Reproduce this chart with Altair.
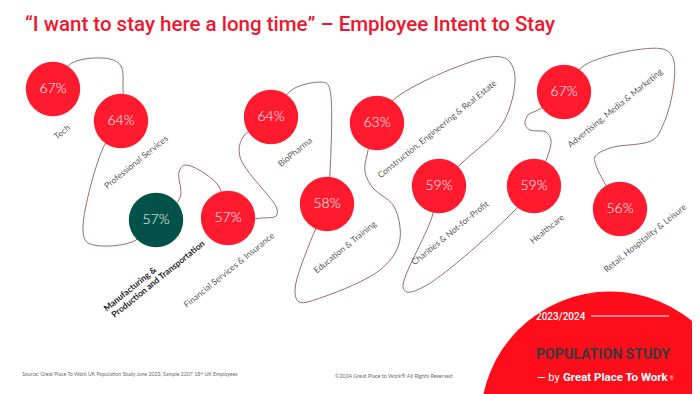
import altair as alt
import pandas as pd

# ---------------- data ----------------
categories = [
    "Tech", "Professional Services", "Manufacturing & Production and Transportation",
    "Financial Services & Insurance", "BioPharma", "Education & Training",
    "Construction, Engineering & Real Estate", "Charities & Not-for-Profit",
    "Healthcare", "Advertising, Media & Marketing", "Retail, Hospitality & Leisure",
]
values = [67, 64, 57, 57, 64, 58, 63, 59, 59, 67, 56]
highlighted = [False, False, True, False, False, False, False, False, False, False, False]

# ---------------- layout (infographic positions, px) ----------------
bubble_x = [53, 121, 156, 228, 271, 327, 377, 439, 534, 564, 620]
bubble_y = [89, 121, 220, 218, 117, 204, 123, 186, 186, 92, 209]
label_x = [62, 136, 0, 229, 295, 345, 437, 450, 547, 615, 645]
label_y = [132, 162, 0, 270, 152, 247, 129, 233, 229, 108, 238]

mfg_lines = ["Manufacturing &", "Production and Transportation"]
mfg_x = [130, 158]
mfg_y = [289, 279]

# decorative connecting thread
path_x = [53, 72, 110, 121, 123, 121, 103, 83, 88, 132, 156, 180, 179, 185, 218, 228,
          262, 276, 277, 240, 243, 271, 293, 326, 330, 330, 327, 313, 295, 299, 323,
          380, 398, 400, 393, 373, 365, 367, 377, 397, 490, 508, 515, 503, 463, 439,
          432, 403, 407, 427, 513, 534, 548, 551, 546, 530, 525, 528, 538, 564, 585,
          663, 673, 673, 663, 653, 610, 595, 597, 603, 620]
path_y = [89, 63, 59, 66, 88, 121, 148, 230, 243, 242, 220, 198, 172, 165, 185, 218,
          218, 216, 209, 157, 137, 117, 89, 83, 90, 173, 204, 235, 290, 302, 297,
          270, 247, 227, 205, 188, 172, 155, 123, 97, 57, 60, 77, 123, 162, 186,
          217, 287, 292, 285, 212, 186, 155, 140, 132, 130, 124, 115, 110, 92, 65,
          49, 58, 90, 125, 140, 148, 157, 168, 180, 209]

W, H = 684, 386
XS = alt.Scale(domain=[8, 692], nice=False, zero=False)
YS = alt.Scale(domain=[8, 394], nice=False, zero=False, reverse=True)


def X(f="x"):
    return alt.X(f"{f}:Q", scale=XS, axis=None)


def Y(f="y"):
    return alt.Y(f"{f}:Q", scale=YS, axis=None)


RED = "#FF1A2E"
GREEN = "#02524A"
THREAD = "#A4686B"
LABEL = "#5B5B5B"
FONT = "Lato"

bubbles = pd.DataFrame({
    "cat": categories,
    "value": values,
    "pct": [f"{v}%" for v in values],
    "hl": ["yes" if h else "no" for h in highlighted],
    "x": bubble_x, "y": bubble_y,
    "lx": label_x, "ly": label_y,
})
labels = bubbles[~bubbles["hl"].eq("yes")]
path = pd.DataFrame({"x": path_x, "y": path_y, "i": range(len(path_x))})
mfg = pd.DataFrame({"t": mfg_lines, "x": mfg_x, "y": mfg_y})

thread = alt.Chart(path).mark_line(
    interpolate="catmull-rom", color=THREAD, strokeWidth=1
).encode(x=X(), y=Y(), order="i:Q")

circles = alt.Chart(bubbles).mark_circle(size=2960, opacity=1).encode(
    x=X(), y=Y(),
    color=alt.Color("hl:N", scale=alt.Scale(domain=["no", "yes"], range=[RED, GREEN]), legend=None),
)

pct = alt.Chart(bubbles).mark_text(
    color="white", font=FONT, fontSize=14, fontWeight=300, baseline="middle"
).encode(x=X(), y=Y(), text="pct:N")

cat_labels = alt.Chart(labels).mark_text(
    angle=321, color=LABEL, font=FONT, fontSize=8.6, baseline="middle", align="center"
).encode(x=X("lx"), y=Y("ly"), text="cat:N")

mfg_labels = alt.Chart(mfg).mark_text(
    angle=321, color="#1E1E1E", font=FONT, fontSize=8.6, fontWeight="bold",
    baseline="middle", align="center"
).encode(x=X(), y=Y(), text="t:N")

title = alt.Chart(pd.DataFrame({"t": ["\u201cI want to stay here a long time\u201d \u2013 Employee Intent to Stay"],
                                "x": [25], "y": [31]})).mark_text(
    color="#F0162E", font="Roboto", fontSize=20.5, fontWeight=500, align="left", baseline="alphabetic"
).encode(x=X(), y=Y(), text="t:N")

big = alt.Chart(pd.DataFrame({"x": [610], "y": [421]})).mark_circle(
    size=3.14159 * 146 * 146, opacity=1, color="#FF0D1A"
).encode(x=X(), y=Y())

logo_text = pd.DataFrame({
    "t": ["2023/2024", "POPULATION STUDY", "\u2014 by", "Great Place To Work", "\u00ae"],
    "x": [536, 536, 537, 563, 670],
    "y": [320, 359, 381, 381, 380],
})
year = alt.Chart(logo_text.iloc[[0]]).mark_text(
    color="white", font="Roboto", fontSize=10, fontWeight=500, align="left", baseline="alphabetic"
).encode(x=X(), y=Y(), text="t:N")
popstudy = alt.Chart(logo_text.iloc[[1]]).mark_text(
    color="#3A3A3A", font="Roboto", fontSize=14.1, fontWeight="bold", align="left", baseline="alphabetic"
).encode(x=X(), y=Y(), text="t:N")
by = alt.Chart(logo_text.iloc[[2]]).mark_text(
    color="white", font="Roboto", fontSize=11, align="left", baseline="alphabetic"
).encode(x=X(), y=Y(), text="t:N")
gptw = alt.Chart(logo_text.iloc[[3]]).mark_text(
    color="white", font="Roboto", fontSize=11.5, fontWeight="bold", align="left", baseline="alphabetic"
).encode(x=X(), y=Y(), text="t:N")
reg = alt.Chart(logo_text.iloc[[4]]).mark_text(
    color="white", font="Roboto", fontSize=4.5, align="left", baseline="alphabetic"
).encode(x=X(), y=Y(), text="t:N")
year_rule = alt.Chart(pd.DataFrame({"x": [591], "x2": [669], "y": [316]})).mark_rule(
    color="white", strokeWidth=1
).encode(x=X(), x2="x2:Q", y=Y())

footer = pd.DataFrame({
    "t": ["Source: Great Place To Work UK Population Study June 2023, Sample 2207 18+ UK Employees",
          "\u00a92024 Great Place to Work\u00ae All Rights Reserved"],
    "x": [22, 335], "y": [374, 376], "fs": [5.2, 5.4],
})
foot = alt.Chart(footer).mark_text(
    color="#6A6A6A", font=FONT, align="left", baseline="middle"
).encode(x=X(), y=Y(), text="t:N", size=alt.Size("fs:Q", scale=None, legend=None))

chart = alt.layer(
    big, thread, circles, pct, cat_labels, mfg_labels, title,
    year, year_rule, popstudy, by, gptw, reg, foot
).properties(
    width=W, height=H, padding=0, autosize=alt.AutoSizeParams(type="none"),
    background="white",
).configure_view(stroke=None)

chart.save("out.html", embed_options={"renderer": "svg", "actions": False})
